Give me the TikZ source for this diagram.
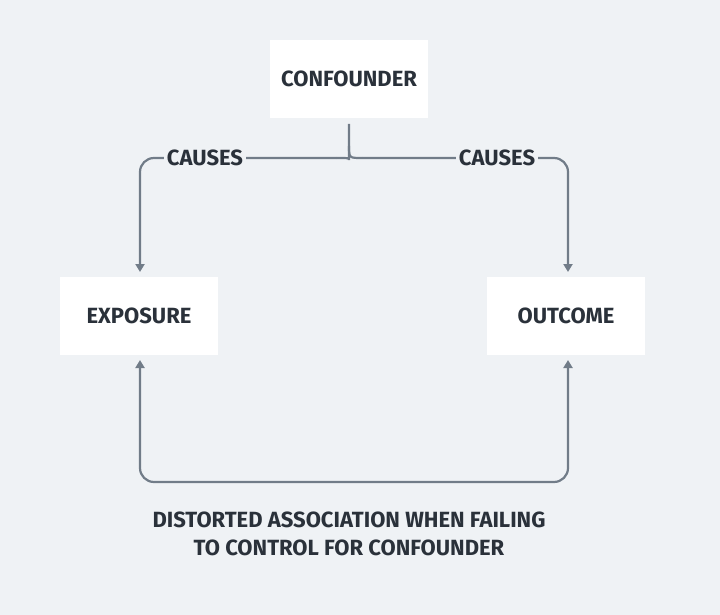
\documentclass[tikz,border=0pt]{standalone}
\usepackage{fontspec}
\setmainfont{Fira Sans}
\usetikzlibrary{arrows.meta}
\definecolor{bg}{HTML}{EFF2F5}
\definecolor{ln}{HTML}{717C88}
\definecolor{tx}{HTML}{2A313A}
\begin{document}
\begin{tikzpicture}[x=1pt,y=-1pt,
  box/.style={fill=white,minimum width=158pt,minimum height=78pt,inner sep=0pt,font=\bfseries\fontsize{22}{26}\selectfont,text=tx},
  lab/.style={fill=bg,inner sep=3pt,font=\bfseries\fontsize{22}{26}\selectfont,text=tx},
  con/.style={draw=ln,line width=2.2pt,rounded corners=14pt},
  arr/.style={con,-{Triangle[width=9pt,length=8pt]}}]
\fill[bg] (0,0) rectangle (720,615);
\node[box] (c) at (349,79) {CONFOUNDER};
\node[box] (e) at (139,316) {EXPOSURE};
\node[box] (o) at (566,316) {OUTCOME};
\coordinate (top) at (349,124);
\coordinate (mid) at (349,146);
\draw[con] (top) -- (mid) .. controls (349,158) .. (336,158);
\draw[con] (mid) .. controls (349,158) .. (362,158);
\draw[arr] (336,158) -- (140,158) -- (140,272);
\draw[arr] (362,158) -- (568,158) -- (568,272);
\node[lab] (l1) at (205,158) {CAUSES};
\node[lab] (l2) at (497,158) {CAUSES};
\draw[arr,{Triangle[width=9pt,length=8pt]}-{Triangle[width=9pt,length=8pt]}] (140,360) -- (140,482) -- (568,482) -- (568,360);
\node[font=\bfseries\fontsize{22}{28}\selectfont,text=tx,align=center] (t) at (349,534) {DISTORTED ASSOCIATION WHEN FAILING\\TO CONTROL FOR CONFOUNDER};
\end{tikzpicture}
\end{document}
